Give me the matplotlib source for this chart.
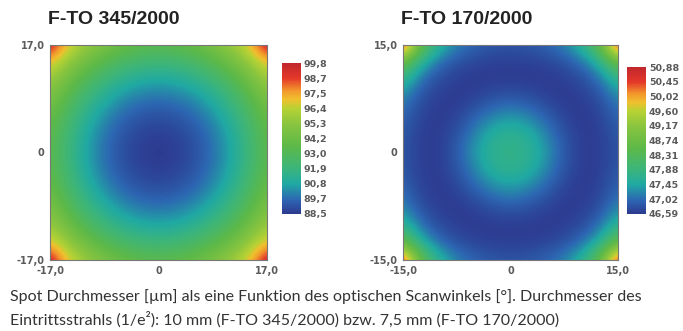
#!/usr/bin/env python3
# -*- coding: utf-8 -*-
"""
plot.py - spot diameter maps of two F-Theta objectives
"""
import numpy as np
import matplotlib
matplotlib.use('Agg')
import matplotlib.pyplot as plt
from matplotlib.colors import LinearSegmentedColormap

# --- data -----------------------------------------------------------------
TITLES = ['F-TO 345/2000', 'F-TO 170/2000']
HALF_FIELD = [17.0, 15.0]  # scan angle half range [deg]

# quadrant of the spot map (centre -> edge), rows = y, cols = x, in 1/6 steps
QUAD_345 = [
    [88.50, 88.62, 89.00, 89.70, 90.70, 91.97, 93.50],
    [88.62, 88.75, 89.14, 89.85, 90.85, 92.11, 93.64],
    [89.00, 89.14, 89.55, 90.27, 91.26, 92.53, 94.06],
    [89.70, 89.85, 90.27, 91.00, 91.97, 93.22, 94.75],
    [90.70, 90.85, 91.26, 91.97, 92.94, 94.19, 95.72],
    [91.97, 92.11, 92.53, 93.22, 94.19, 95.44, 96.95],
    [93.50, 93.64, 94.06, 94.75, 95.72, 96.95, 99.80],
]
QUAD_170 = [
    [47.80, 47.70, 47.35, 46.88, 46.62, 46.63, 46.84],
    [47.70, 47.60, 47.20, 46.82, 46.61, 46.64, 46.87],
    [47.35, 47.20, 46.95, 46.68, 46.60, 46.68, 46.98],
    [46.88, 46.82, 46.68, 46.60, 46.63, 46.78, 47.20],
    [46.62, 46.61, 46.60, 46.63, 46.74, 47.02, 47.70],
    [46.63, 46.64, 46.68, 46.78, 47.02, 47.55, 48.60],
    [46.84, 46.87, 46.98, 47.20, 47.70, 48.60, 50.88],
]
CBAR_LABELS_345 = ['88,5', '89,7', '90,8', '91,9', '93,0', '94,2',
                   '95,3', '96,4', '97,5', '98,7', '99,8']
CBAR_LABELS_170 = ['46,59', '47,02', '47,45', '47,88', '48,31', '48,74',
                   '49,17', '49,60', '50,02', '50,45', '50,88']
CBAR_RANGE = [(88.5, 99.8), (46.59, 50.88)]
CAPTION = ['Spot Durchmesser [µm] als eine Funktion des optischen '
           'Scanwinkels [°]. Durchmesser des',
           'Eintrittsstrahls (1/e²): 10 mm (F-TO 345/2000) bzw. '
           '7,5 mm (F-TO 170/2000)']

# --- style ----------------------------------------------------------------
W, H = 683, 331
TICK_COLOR = '#5a5a5a'
CMAP = LinearSegmentedColormap.from_list('spot', [
    (0.00, '#2c3a8f'), (0.09, '#2d65b2'), (0.20, '#20a9a3'),
    (0.30, '#3bb57c'), (0.45, '#5db948'), (0.60, '#8ac53f'),
    (0.70, '#b7d234'), (0.76, '#f0c02e'), (0.82, '#f2962c'),
    (0.90, '#e4382a'), (1.00, '#c1272d')])


def full_map(quad):
    '''Mirror the quadrant into the full (top row = +y) map'''
    q = np.array(quad)
    upper = np.hstack([np.fliplr(q)[:, :-1], q])      # rows: y = 0 .. +max
    return np.vstack([np.flipud(upper)[:-1], upper])[::-1]


def px_axes(fig, x0, y0, x1, y1):
    '''Axes from pixel box (top-left origin)'''
    return fig.add_axes([x0 / W, 1 - y1 / H, (x1 - x0) / W, (y1 - y0) / H])


def draw_map(fig, box, cbox, quad, half, vrange, labels):
    axis = px_axes(fig, *box)
    data = full_map(quad)
    n = data.shape[0]
    step = 2 * half / (n - 1)
    img = axis.imshow(data, cmap=CMAP, vmin=vrange[0], vmax=vrange[1],
                      interpolation='bicubic', origin='upper',
                      extent=[-half - step / 2, half + step / 2,
                              -half - step / 2, half + step / 2])
    axis.set_xlim(-half, half)
    axis.set_ylim(-half, half)
    axis.set_aspect('auto')
    ticks = [-half, 0, half]
    tick_txt = [f'{-half:.1f}'.replace('.', ','), '0',
                f'{half:.1f}'.replace('.', ',')]
    axis.set_xticks(ticks)
    axis.set_xticklabels(tick_txt)
    axis.set_yticks(ticks)
    axis.set_yticklabels(tick_txt)
    axis.tick_params(length=0, pad=4, labelsize=7, colors=TICK_COLOR)
    for lab in axis.get_xticklabels() + axis.get_yticklabels():
        lab.set_fontweight('bold')
    for spine in axis.spines.values():
        spine.set_color('#777777')
        spine.set_linewidth(0.8)

    cax = px_axes(fig, *cbox)
    cbar = fig.colorbar(img, cax=cax)
    cbar.set_ticks(np.linspace(vrange[0], vrange[1], len(labels)))
    cbar.set_ticklabels(labels)
    cbar.outline.set_visible(False)
    cax.tick_params(length=0, pad=2, labelsize=6.8, colors=TICK_COLOR)
    for lab in cax.get_yticklabels():
        lab.set_fontweight('bold')


fig = plt.figure(figsize=(W / 100, H / 100), dpi=100)

draw_map(fig, (50, 45, 267, 260), (282, 63, 301, 214),
         QUAD_345, HALF_FIELD[0], CBAR_RANGE[0], CBAR_LABELS_345)
draw_map(fig, (403, 45, 618, 260), (627, 67, 646, 214),
         QUAD_170, HALF_FIELD[1], CBAR_RANGE[1], CBAR_LABELS_170)

# titles
for x_px, title in zip([48, 401], TITLES):
    fig.text(x_px / W, 1 - 20 / H, title, ha='left', va='center',
             fontsize=14, fontweight='bold', color='#222222',
             family='Liberation Sans')

# caption
for y_px, line in zip([301, 325], CAPTION):
    fig.text(10 / W, 1 - y_px / H, line, ha='left', va='baseline',
             fontsize=11.5, color='#333333', family='Lato')

fig.savefig('out.png', dpi=100)
